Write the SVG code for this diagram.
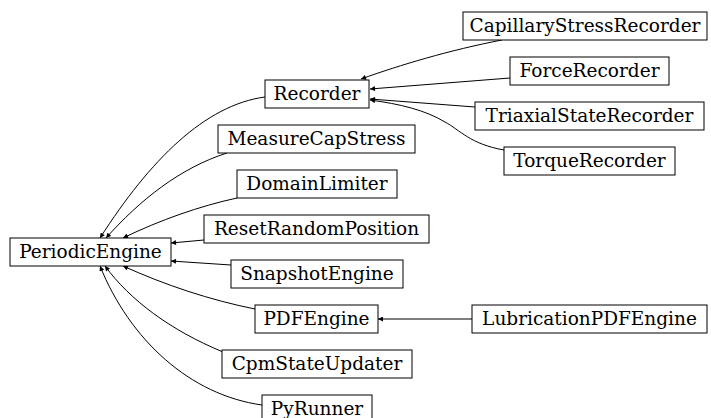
<svg xmlns="http://www.w3.org/2000/svg" width="711" height="418" viewBox="0 0 711 418">
<style>
.n rect{fill:#fff;stroke:#000;stroke-width:1}
.n text{font-family:"DejaVu Serif",serif;font-size:18.5px;text-anchor:middle;fill:#000}
.e path{fill:none;stroke:#000;stroke-width:1;marker-end:url(#a)}
</style>
<defs>
<marker id="a" viewBox="0 0 10 10" refX="10" refY="5" markerWidth="6" markerHeight="5" orient="auto" markerUnits="userSpaceOnUse">
<path d="M0,0 L10,5 L0,10 z" fill="#000"/>
</marker>
</defs>
<rect width="711" height="418" fill="#fff"/>
<g class="e">
<path d="M265,97 C205,105 150,160 100,238"/>
<path d="M227,153 C180,168 140,200 106,238"/>
<path d="M237,198 C200,206 160,220 123,238"/>
<path d="M204,240 L171,243"/>
<path d="M231,265 L171,261"/>
<path d="M255,309 C210,300 165,285 123,266"/>
<path d="M223,352 C170,330 130,300 105,266"/>
<path d="M262,405 C190,395 130,340 100,266"/>
<path d="M502,40 C450,50 400,65 361,79"/>
<path d="M510,78 L370,89"/>
<path d="M475,107 L370,99"/>
<path d="M504,150 C470,144 460,130 445,122 C425,110 400,104 370,100"/>
<path d="M472,319 L378,319"/>
</g>
<g id="PeriodicEngine" class="n"><rect x="10" y="238" width="161" height="28"/><text x="90.5" y="258">PeriodicEngine</text></g>
<g id="Recorder" class="n"><rect x="265" y="80" width="104" height="28"/><text x="317" y="100">Recorder</text></g>
<g id="MeasureCapStress" class="n"><rect x="218" y="125" width="197" height="28"/><text x="316.5" y="145">MeasureCapStress</text></g>
<g id="DomainLimiter" class="n"><rect x="237" y="170" width="160" height="28"/><text x="317" y="190">DomainLimiter</text></g>
<g id="ResetRandomPosition" class="n"><rect x="204" y="215" width="225" height="28"/><text x="316.5" y="235">ResetRandomPosition</text></g>
<g id="SnapshotEngine" class="n"><rect x="231" y="260" width="172" height="28"/><text x="317" y="280">SnapshotEngine</text></g>
<g id="PDFEngine" class="n"><rect x="255" y="305" width="123" height="28"/><text x="316.5" y="325">PDFEngine</text></g>
<g id="CpmStateUpdater" class="n"><rect x="222" y="350" width="190" height="28"/><text x="317" y="370">CpmStateUpdater</text></g>
<g id="PyRunner" class="n"><rect x="262" y="395" width="110" height="28"/><text x="317" y="415">PyRunner</text></g>
<g id="CapillaryStressRecorder" class="n"><rect x="463" y="12" width="244" height="28"/><text x="585" y="32">CapillaryStressRecorder</text></g>
<g id="ForceRecorder" class="n"><rect x="510" y="57" width="159" height="28"/><text x="589.5" y="77">ForceRecorder</text></g>
<g id="TriaxialStateRecorder" class="n"><rect x="475" y="102" width="229" height="28"/><text x="589.5" y="122">TriaxialStateRecorder</text></g>
<g id="TorqueRecorder" class="n"><rect x="504" y="147" width="171" height="28"/><text x="589.5" y="167">TorqueRecorder</text></g>
<g id="LubricationPDFEngine" class="n"><rect x="472" y="305" width="235" height="28"/><text x="589.5" y="325">LubricationPDFEngine</text></g>
</svg>
